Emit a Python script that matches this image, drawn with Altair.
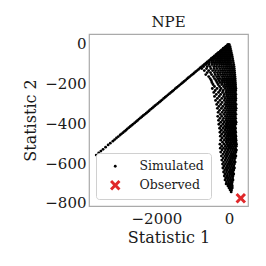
import altair as alt
import pandas as pd

# Diagonal ridge of simulated points
diag_x = [-3658, -3590, -3530, -3470, -3400, -3330, -3270, -3200, -3150, -3100, -3050, -3000,
          -2960, -2920, -2880, -2840, -2800, -2760, -2720, -2680, -2640, -2600, -2560, -2520,
          -2480, -2440, -2400, -2360, -2320, -2280, -2240, -2200, -2160, -2120, -2080, -2040,
          -2000, -1960, -1920, -1880, -1840, -1800, -1760, -1720, -1680, -1640, -1600, -1560,
          -1520, -1480, -1440, -1400, -1360, -1320, -1280, -1240, -1200, -1160, -1120, -1080,
          -1040, -1000, -960, -920, -880, -840, -800, -760, -720, -680, -640, -600, -560,
          -520, -480, -440, -400, -360, -320, -280, -240, -200, -160, -120, -80, -40]
diag_y = [-560, -549, -540, -531, -520, -509, -500, -490, -482, -474, -467, -459,
          -453, -447, -441, -435, -428, -422, -416, -410, -404, -398, -392, -386,
          -379, -373, -367, -361, -355, -349, -343, -337, -330, -324, -318, -312,
          -306, -300, -294, -288, -282, -275, -269, -263, -257, -251, -245, -239,
          -233, -226, -220, -214, -208, -202, -196, -190, -184, -177, -171, -165,
          -159, -153, -147, -141, -135, -129, -122, -116, -110, -104, -98, -92, -86,
          -80, -73, -67, -61, -55, -49, -43, -37, -31, -24, -18, -12, -6]

# Cloud of simulated points, listed row by row (Statistic 2 level -> Statistic 1 values)
cloud_y = [-5, -15, -25, -35, -45, -55, -65, -75, -85, -95,
           -105, -115, -125, -135, -145, -155, -165, -175, -185, -195,
           -205, -215, -225, -235, -245, -255, -265, -275, -285, -295,
           -305, -315, -325, -335, -345, -355, -365, -375, -385, -395,
           -405, -415, -425, -435, -445, -455, -465, -475, -485, -495,
           -505, -515, -525, -535, -545, -555, -565, -575, -585, -595,
           -605, -615, -625, -635, -645, -655, -665, -675, -685, -695,
           -705, -715, -725, -735, -745]
cloud_x = [
    [-30, -10, 10],
    [-90, -60, -30, 0, 30],
    [-160, -120, -80, -40, 0, 40],
    [-220, -180, -140, -100, -60, -20, 20, 55],
    [-290, -250, -210, -170, -130, -90, -50, -10, 30, 65],
    [-350, -310, -270, -230, -190, -150, -110, -70, -30, 10, 50, 80],
    [-410, -370, -320, -280, -240, -200, -160, -120, -80, -40, 0, 40, 90],
    [-480, -440, -390, -340, -300, -250, -210, -170, -120, -80, -40, 0, 40, 100],
    [-540, -480, -430, -370, -320, -270, -230, -180, -130, -90, -40, 0, 50, 110],
    [-600, -540, -470, -410, -360, -300, -250, -200, -150, -100, -50, 0, 50, 120],
    [-640, -560, -470, -400, -330, -260, -200, -140, -80, -30, 20, 70, 130],
    [-700, -600, -520, -420, -350, -280, -210, -150, -90, -40, 10, 60, 100, 140],
    [-750, -620, -500, -410, -330, -250, -180, -120, -60, 0, 50, 100, 145],
    [-680, -560, -450, -370, -290, -220, -160, -100, -40, 10, 60, 110, 150],
    [-600, -510, -400, -320, -250, -180, -120, -60, 0, 50, 100, 155],
    [-640, -480, -380, -300, -230, -160, -100, -40, 20, 70, 120, 160],
    [-560, -430, -340, -270, -190, -130, -70, -20, 30, 80, 130, 165],
    [-520, -400, -310, -240, -170, -110, -50, 0, 50, 100, 140, 170],
    [-490, -360, -280, -200, -140, -80, -30, 20, 70, 120, 170],
    [-470, -330, -250, -180, -120, -60, -10, 40, 90, 130, 175],
    [-440, -300, -200, -120, -50, 0, 50, 100, 140, 180],
    [-400, -260, -150, -80, -20, 30, 80, 130, 180],
    [-460, -330, -220, -110, -40, 20, 70, 120, 165, 190],
    [-380, -250, -160, -70, -10, 40, 90, 140, 185],
    [-420, -290, -180, -90, -30, 30, 80, 130, 175],
    [-350, -230, -130, -60, 0, 50, 100, 150, 190],
    [-400, -270, -150, -70, -20, 40, 90, 140, 180],
    [-320, -200, -110, -40, 10, 60, 110, 160, 190],
    [-370, -250, -130, -60, 0, 50, 100, 150, 185],
    [-300, -190, -90, -30, 20, 70, 120, 170],
    [-340, -230, -120, -50, 10, 60, 110, 160, 195],
    [-280, -170, -80, -20, 30, 80, 130, 180],
    [-320, -210, -110, -40, 20, 70, 120, 165, 195],
    [-260, -150, -70, -10, 40, 90, 140, 185],
    [-300, -190, -100, -30, 20, 70, 120, 170],
    [-240, -140, -60, 0, 50, 100, 150, 190],
    [-310, -200, -100, -40, 20, 70, 120, 170],
    [-250, -150, -70, -10, 40, 90, 140, 185],
    [-290, -180, -90, -30, 30, 80, 130, 175],
    [-230, -130, -50, 10, 60, 110, 160, 195],
    [-280, -170, -80, -20, 40, 90, 140, 185],
    [-220, -120, -50, 10, 60, 110, 160],
    [-260, -160, -80, -20, 30, 80, 130, 180],
    [-210, -110, -40, 20, 70, 120, 170],
    [-250, -150, -70, -10, 40, 90, 140, 185],
    [-200, -100, -30, 30, 80, 130, 175],
    [-240, -140, -60, 0, 50, 100, 150, 190],
    [-190, -90, -20, 40, 90, 140, 185],
    [-230, -130, -60, 0, 50, 110, 160, 195],
    [-180, -80, -20, 40, 90, 140, 190],
    [-250, -140, -60, 10, 60, 120, 170, 205],
    [-200, -100, -30, 30, 90, 150, 200],
    [-240, -150, -70, 0, 60, 120, 180],
    [-190, -100, -30, 40, 100, 160, 205],
    [-230, -130, -60, 10, 70, 130, 190],
    [-170, -90, -20, 50, 110, 170],
    [-210, -120, -50, 20, 80, 140, 190],
    [-160, -80, -10, 50, 110, 170],
    [-200, -110, -40, 30, 90, 150],
    [-150, -70, 0, 60, 120, 170],
    [-180, -100, -30, 30, 90, 150],
    [-140, -60, 10, 70, 130],
    [-170, -90, -20, 40, 100, 150],
    [-120, -50, 20, 80, 130],
    [-150, -70, 0, 60, 110],
    [-110, -40, 30, 90, 130],
    [-130, -60, 10, 70, 110],
    [-90, -20, 40, 100],
    [-110, -40, 20, 70, 110],
    [-70, -10, 50, 90],
    [-80, -20, 30, 80],
    [-30, 30, 90],
    [0, 50, 90],
    [30, 70],
    [60],
]

observed_x = [324]
observed_y = [-777]

series = ["Simulated", "Observed"]

rows = []
for x, y in zip(diag_x, diag_y):
    rows.append({"s1": x, "s2": y, "kind": series[0]})
for y, xs in zip(cloud_y, cloud_x):
    for x in xs:
        rows.append({"s1": x, "s2": y, "kind": series[0]})
for x, y in zip(observed_x, observed_y):
    rows.append({"s1": x, "s2": y, "kind": series[1]})
df = pd.DataFrame(rows)

x_path = ("M-1,-0.6L-0.6,-1L0,-0.4L0.6,-1L1,-0.6L0.4,0L1,0.6L0.6,1L0,0.4"
          "L-0.6,1L-1,0.6L-0.4,0Z")

FONT = "DejaVu Serif"
TXT = "#1a1a1a"

chart = alt.Chart(df).mark_point(filled=True, opacity=1, strokeWidth=0).encode(
    x=alt.X("s1:Q", title="Statistic 1",
            scale=alt.Scale(domain=[-3857, 523], nice=False, zero=False),
            axis=alt.Axis(values=[-2000, 0], format="d", grid=False, domain=False,
                          ticks=False, labelFontSize=15, titleFontSize=16, labelPadding=5,
                          titlePadding=3, labelFont=FONT, titleFont=FONT,
                          labelColor=TXT, titleColor=TXT, titleFontWeight="normal")),
    y=alt.Y("s2:Q", title="Statistic 2",
            scale=alt.Scale(domain=[-816, 49], nice=False, zero=False),
            axis=alt.Axis(values=[0, -200, -400, -600, -800], format="d", grid=False,
                          domain=False, ticks=False, labelFontSize=15, titleFontSize=16,
                          labelPadding=3, titlePadding=6, labelFont=FONT, titleFont=FONT,
                          labelColor=TXT, titleColor=TXT, titleFontWeight="normal")),
    color=alt.Color("kind:N", scale=alt.Scale(domain=series, range=["black", "#e0282a"]),
                    legend=alt.Legend(title=None, orient="bottom-left", offset=7,
                                      fillColor="white", strokeColor="#d0d0d0",
                                      cornerRadius=3, padding=7, labelFont=FONT,
                                      labelFontSize=12.5, labelColor=TXT,
                                      rowPadding=6, symbolOffset=6, labelOffset=18)),
    shape=alt.Shape("kind:N", scale=alt.Scale(domain=series, range=["circle", x_path])),
    size=alt.Size("kind:N", scale=alt.Scale(domain=series, range=[8, 110])),
    order=alt.Order("kind:N", sort="descending"),
).properties(
    width=159, height=172,
    title=alt.TitleParams("NPE", font=FONT, fontSize=15, fontWeight="normal",
                          color=TXT, offset=4),
    autosize="none",
    padding={"left": 81, "top": 26, "right": 10, "bottom": 40},
).configure_view(stroke="#aaaaaa", strokeWidth=1.2)

chart.save("out.html", embed_options={"renderer": "svg", "actions": False})
